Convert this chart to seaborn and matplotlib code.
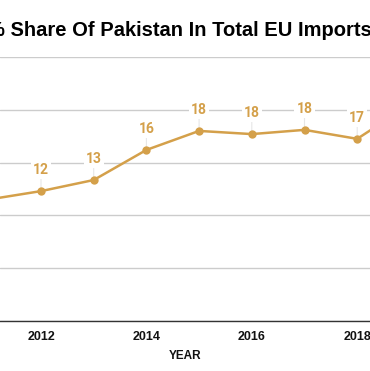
import matplotlib
matplotlib.use("Agg")
import matplotlib.pyplot as plt
import seaborn as sns
import pandas as pd
import numpy as np

years = [2011, 2012, 2013, 2014, 2015, 2016, 2017, 2018, 2019]
share = [11.5, 12.3, 13.35, 16.2, 18.0, 17.7, 18.1, 17.25, 20.5]
tick_years = [2012, 2014, 2016, 2018]
title = "% Share Of Pakistan In Total EU Imports"
xlabel = "YEAR"

df = pd.DataFrame({"year": years, "share": share})

sns.set_theme(style="white")
plt.rcParams["font.family"] = ["Liberation Sans", "DejaVu Sans"]

gold = "#D4A04A"
fig = plt.figure(figsize=(3.70, 3.71), dpi=100)
ax = fig.add_axes([0.0, 50 / 371, 1.0, (321 - 57) / 371])

sns.lineplot(data=df, x="year", y="share", ax=ax, color=gold, linewidth=1.8,
             marker="o", markersize=6, markeredgewidth=0, zorder=4)

for x, y in zip(years, share):
    ax.annotate(f"{int(round(y))}", xy=(x, y), xytext=(0, 15), textcoords="offset points",
                ha="center", va="center", fontsize=10, color=gold,
                family=["Roboto", "DejaVu Sans"], fontweight=600,
                bbox=dict(boxstyle="square,pad=0.15", fc="white", ec="none"),
                arrowprops=dict(arrowstyle="-", color="#e6e6e6", lw=0.8,
                                shrinkA=0, shrinkB=0),
                zorder=3)

ax.set_xlim(2012 - 41 / 52.7, 2012 + 329 / 52.7)
ax.set_ylim(0, 25)
ax.set_yticks([0, 5, 10, 15, 20, 25])
ax.set_yticklabels([])
ax.tick_params(axis="y", length=0)
ax.yaxis.grid(True, color="#cccccc", linewidth=1.0, zorder=0)
ax.set_axisbelow(True)
ax.set_xticks(tick_years)
ax.set_xticklabels([str(t) for t in tick_years], fontsize=9, fontweight="bold", color="#111111")
ax.tick_params(axis="x", length=0, pad=7)
for s in ["top", "left", "right"]:
    ax.spines[s].set_visible(False)
ax.spines["bottom"].set_color("#333333")
ax.spines["bottom"].set_linewidth(1.0)
ax.set_xlabel(xlabel, fontsize=8.5, fontweight="bold", color="#111111", labelpad=5)
ax.set_ylabel("")

fig.text(0.486, 1 - 36 / 371, title, ha="center", va="baseline", fontsize=14.5,
         fontweight="bold", color="#000000")

fig.savefig("out.png", dpi=100)
